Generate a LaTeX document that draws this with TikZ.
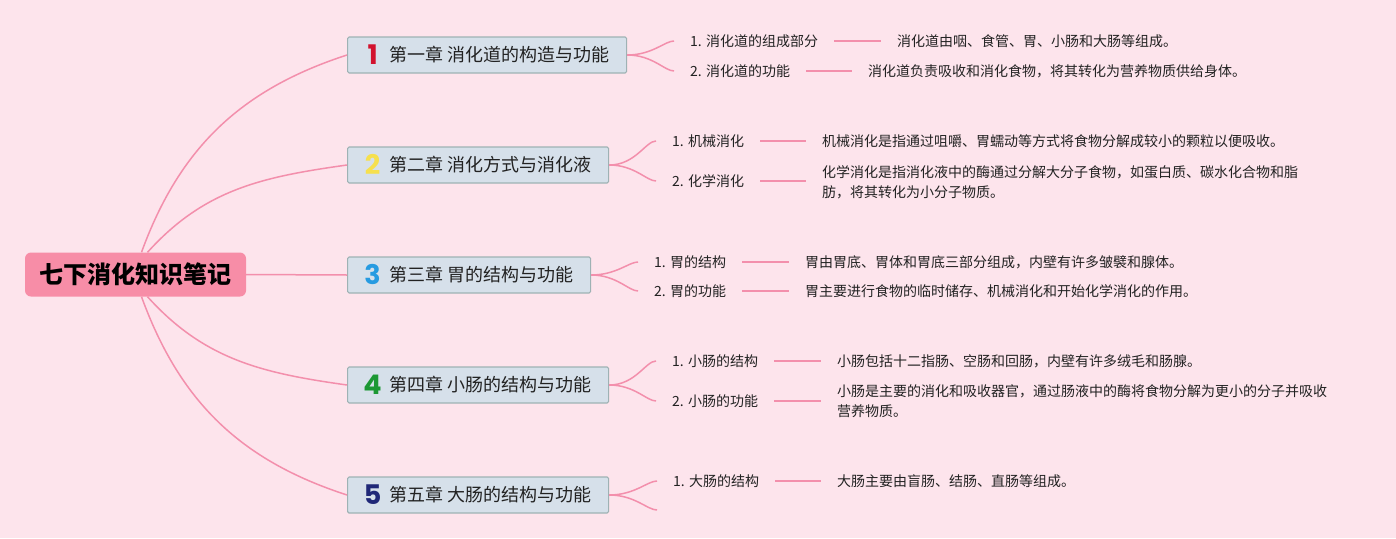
\documentclass[tikz,border=0pt]{standalone}
\usepackage{fontspec}
\setmainfont{Noto Sans CJK SC}
\newfontfamily\numfont{Poppins}
\definecolor{bgpink}{RGB}{253, 228, 236}
\definecolor{rootpink}{RGB}{247, 141, 167}
\definecolor{linkpink}{RGB}{243, 143, 172}
\definecolor{chapfill}{RGB}{214, 224, 234}
\definecolor{chapedge}{RGB}{158, 178, 180}
\definecolor{num1}{RGB}{210, 18, 46}
\definecolor{num2}{RGB}{246, 224, 78}
\definecolor{num3}{RGB}{38, 155, 225}
\definecolor{num4}{RGB}{28, 152, 52}
\definecolor{num5}{RGB}{32, 40, 120}
\definecolor{inkgray}{RGB}{34, 34, 34}
\usetikzlibrary{positioning}

\tikzset{
  rootbox/.style={fill=rootpink, rounded corners=6pt, minimum width=221pt, minimum height=44pt, inner sep=0pt, font=\fontsize{24}{28}\selectfont\bfseries},
  chapbox/.style={draw=chapedge, line width=1.2pt, fill=chapfill, rounded corners=1.5pt, minimum height=36pt, inner xsep=17pt, inner ysep=0pt, anchor=west, text=inkgray, font=\fontsize{18}{20}\selectfont},
  itemtext/.style={anchor=west, inner sep=0pt, align=left, text=inkgray, font=\fontsize{14}{20}\selectfont},
  rootlink/.style={draw=linkpink, line width=1.5pt},
  sublink/.style={draw=linkpink, line width=1.5pt, shorten >=16pt},
  barlink/.style={draw=linkpink, line width=2pt, shorten <=16pt, shorten >=16pt}
}
\newcommand{\chapnum}[2]{\smash{\makebox[16pt][c]{\raisebox{-2.5pt}{\numfont\bfseries\fontsize{27}{27}\selectfont\color{#1}#2}}}\hspace{9pt}}

\begin{document}
\begin{tikzpicture}[x=1pt, y=1pt]
  \path[fill=bgpink, use as bounding box] (0, 0) rectangle (1396, -538);

  % The root
  \node[rootbox] (root) at (135.5, -274.5) {七下消化知识笔记};

  % Chapters
  \node[chapbox] (ch1) at (347, -55) {\chapnum{num1}{1}第一章 消化道的构造与功能};
  \node[chapbox] (ch2) at (347, -165) {\chapnum{num2}{2}第二章 消化方式与消化液};
  \node[chapbox] (ch3) at (347, -275) {\chapnum{num3}{3}第三章 胃的结构与功能};
  \node[chapbox] (ch4) at (347, -385) {\chapnum{num4}{4}第四章 小肠的结构与功能};
  \node[chapbox] (ch5) at (347, -495) {\chapnum{num5}{5}第五章 大肠的结构与功能};

  \draw[rootlink] ([xshift=6pt]root.north) to[out=70, in=198] (ch1.west);
  \draw[rootlink] ([xshift=12pt]root.north) to[out=48, in=188] (ch2.west);
  \draw[rootlink] (root.east) -- (ch3.west);
  \draw[rootlink] ([xshift=12pt]root.south) to[out=-48, in=172] (ch4.west);
  \draw[rootlink] ([xshift=6pt]root.south) to[out=-70, in=162] (ch5.west);

  % Chapter 1
  \node[itemtext] (l11) at (690, -41) {1. 消化道的组成部分};
  \node[itemtext] (l12) at (690, -71) {2. 消化道的功能};
  \node[itemtext] (d11) at (897, -41) {消化道由咽、食管、胃、小肠和大肠等组成。};
  \node[itemtext] (d12) at (868, -71) {消化道负责吸收和消化食物，将其转化为营养物质供给身体。};

  % Chapter 2
  \node[itemtext] (l21) at (672, -141) {1. 机械消化};
  \node[itemtext] (l22) at (672, -181) {2. 化学消化};
  \node[itemtext] (d21) at (822, -141) {机械消化是指通过咀嚼、胃蠕动等方式将食物分解成较小的颗粒以便吸收。};
  \node[itemtext] (d22) at (822, -182) {化学消化是指消化液中的酶通过分解大分子食物，如蛋白质、碳水化合物和脂\\肪，将其转化为小分子物质。};

  % Chapter 3
  \node[itemtext] (l31) at (654, -262) {1. 胃的结构};
  \node[itemtext] (l32) at (654, -291) {2. 胃的功能};
  \node[itemtext] (d31) at (805, -262) {胃由胃底、胃体和胃底三部分组成，内壁有许多皱襞和腺体。};
  \node[itemtext] (d32) at (805, -291) {胃主要进行食物的临时储存、机械消化和开始化学消化的作用。};

  % Chapter 4
  \node[itemtext] (l41) at (672, -361) {1. 小肠的结构};
  \node[itemtext] (l42) at (672, -401) {2. 小肠的功能};
  \node[itemtext] (d41) at (837, -361) {小肠包括十二指肠、空肠和回肠，内壁有许多绒毛和肠腺。};
  \node[itemtext] (d42) at (837, -401) {小肠是主要的消化和吸收器官，通过肠液中的酶将食物分解为更小的分子并吸收\\营养物质。};

  % Chapter 5
  \node[itemtext] (l51) at (673, -481) {1. 大肠的结构};
  \coordinate (l52) at (673, -510);
  \node[itemtext] (d51) at (837, -481) {大肠主要由盲肠、结肠、直肠等组成。};

  % Branches
  \foreach \c/\a/\b in {1/l11/l12, 2/l21/l22, 3/l31/l32, 4/l41/l42, 5/l51/l52} {
    \draw[sublink] (ch\c.east) to[out=0, in=180] (\a.west);
    \draw[sublink] (ch\c.east) to[out=0, in=180] (\b);
  }
  \foreach \a/\b in {l11/d11, l12/d12, l21/d21, l22/d22, l31/d31, l32/d32, l41/d41, l42/d42, l51/d51}
    \draw[barlink] (\a.east) -- (\a.east -| \b.west);
\end{tikzpicture}
\end{document}
